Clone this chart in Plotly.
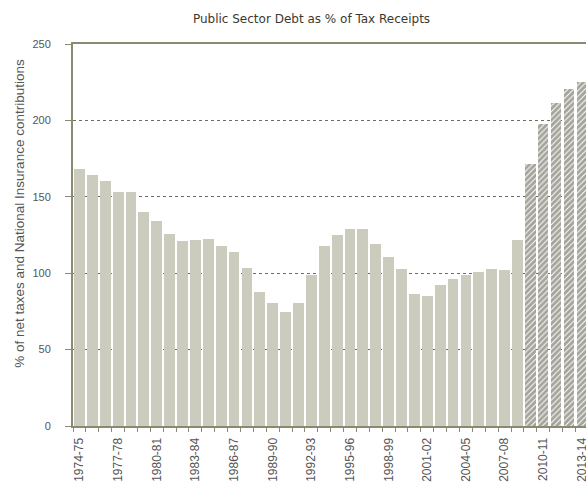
import plotly.graph_objects as go

years = ["1974-75","1975-76","1976-77","1977-78","1978-79","1979-80","1980-81","1981-82",
         "1982-83","1983-84","1984-85","1985-86","1986-87","1987-88","1988-89","1989-90",
         "1990-91","1991-92","1992-93","1993-94","1994-95","1995-96","1996-97","1997-98",
         "1998-99","1999-00","2000-01","2001-02","2002-03","2003-04","2004-05","2005-06",
         "2006-07","2007-08","2008-09","2009-10","2010-11","2011-12","2012-13","2013-14"]
actual = [168, 164, 160.5, 153, 153, 140, 134, 125.4, 121, 121.8, 122.7, 117.7, 114.2, 103.7,
          87.4, 80.6, 74.9, 80.6, 98.7, 117.7, 125.1, 129, 129, 119.4, 110.9, 102.8, 86.3, 85.4,
          92.2, 96.3, 98.7, 101.1, 102.8, 102, 121.8]
forecast = [171.2, 197.4, 211.6, 220.3, 224.9]

n_actual = len(actual)
x_actual = list(range(n_actual))
x_fore = list(range(n_actual, n_actual + len(forecast)))
label_idx = list(range(0, len(years), 3))

fig = go.Figure()
fig.add_trace(go.Bar(x=x_actual, y=actual, width=0.84,
                     marker=dict(color="#cbccbe", line=dict(width=0))))
fig.add_trace(go.Bar(x=x_fore, y=forecast, width=0.8,
                     marker=dict(color="white", line=dict(width=0),
                                 pattern=dict(shape="/", fgcolor="#4a4a36", bgcolor="white",
                                              size=4, solidity=0.75))))

axis_col = "#8a8a72"
fig.update_layout(
    width=586, height=485,
    margin=dict(l=73, r=0, t=44, b=59),
    paper_bgcolor="white", plot_bgcolor="white",
    showlegend=False, bargap=0,
    title=dict(text="Public Sector Debt as % of Tax Receipts", x=0.5316, xanchor="center",
               y=0.962, yanchor="middle",
               font=dict(family="DejaVu Sans", size=12, color="#3a3a30")),
    xaxis=dict(range=[-0.5, 39.32], tickmode="array", tickvals=label_idx,
               ticktext=[years[i] for i in label_idx], tickangle=-90, ticks="",
               automargin=False, ticklabeloverflow="allow", ticklabelstandoff=5,
               showgrid=False, zeroline=False, showline=True, mirror=True,
               linecolor=axis_col, linewidth=2,
               tickfont=dict(family="Liberation Sans", size=12, color="#555555"),
               minor=dict(tickmode="linear", tick0=-0.5, dtick=1, ticks="outside",
                          ticklen=4, tickcolor=axis_col, tickwidth=1, showgrid=False)),
    yaxis=dict(range=[0, 250], tickvals=[0, 50, 100, 150, 200, 250], ticks="outside",
               automargin=False, ticklabelstandoff=12,
               ticklen=6, tickcolor=axis_col, showline=True, linecolor=axis_col, linewidth=2,
               showgrid=True, gridcolor="#6e6e5e", griddash="3px,3px", gridwidth=1,
               zeroline=False,
               tickfont=dict(family="Liberation Sans", size=11, color="#555555")),
    annotations=[dict(text="% of net taxes and National Insurance contributions",
                      textangle=-90, xref="paper", yref="paper", x=-0.1035, y=0.558,
                      xanchor="center", yanchor="middle", showarrow=False,
                      font=dict(family="Liberation Sans", size=13.5, color="#555555"))],
)
fig.write_html("out.html", config={"displayModeBar": False},
               post_script="document.body.style.margin='0';document.body.style.overflow='hidden';")
